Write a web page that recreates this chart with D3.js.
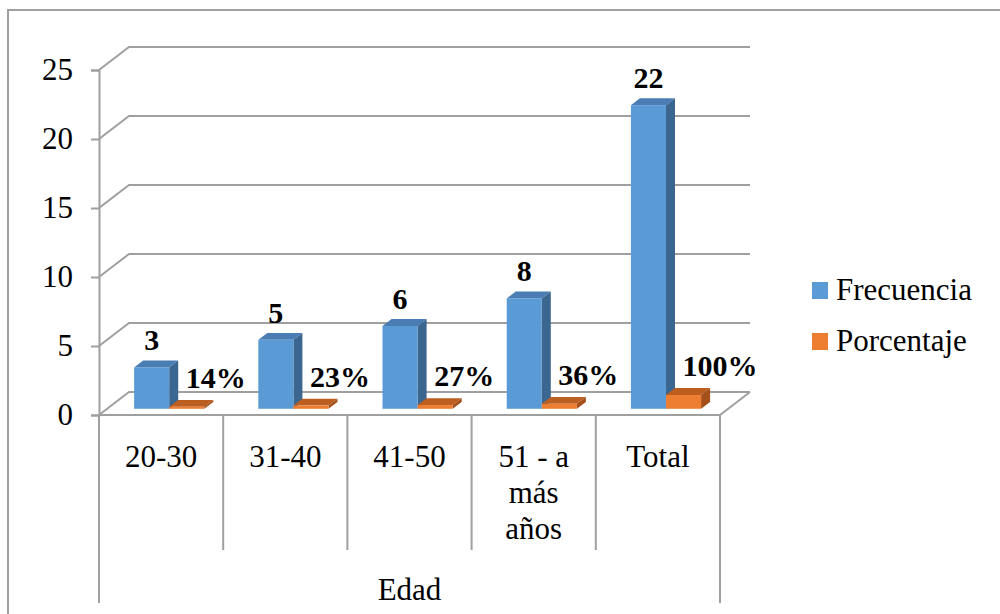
<!DOCTYPE html>
<html>
<head>
<meta charset="utf-8">
<script src="https://cdn.jsdelivr.net/npm/d3@7"></script>
<style>
  html, body { margin: 0; padding: 0; background: #fff; }
  svg { display: block; }
</style>
</head>
<body>
<svg id="chart" width="1000" height="614"></svg>
<script>
// Age groups and the two series shown for each
const categories = ["20-30", "31-40", "41-50", "51 - a|más|años", "Total"];
const seriesNames = ["Frecuencia", "Porcentaje"];
const frecuencia = [3, 5, 6, 8, 22];
const porcentaje = [0.14, 0.23, 0.27, 0.36, 1.00];
const porcentajeLabels = ["14%", "23%", "27%", "36%", "100%"];
const yTicks = [0, 5, 10, 15, 20, 25];
const axisTitle = "Edad";

const FONT = "Liberation Serif";
const TEXT_SIZE = 31;

const svg = d3.select("#chart").attr("font-family", FONT);

// Plot box (front plane) and 3D depth offset of the walls
const plotLeft = 99, plotRight = 720, plotBottom = 415, plotTop = 70;
const depth = { dx: 30, dy: -23 };
const barDepthStart = 0.27, barDepthEnd = 0.57;

const x = d3.scaleBand().domain(categories).range([plotLeft, plotRight]);
const y = d3.scaleLinear().domain([0, 25]).range([plotBottom, plotTop]);
const clusterW = x.bandwidth() * 0.565;
const xs = d3.scaleBand().domain(seriesNames).range([-clusterW / 2, clusterW / 2]);

const gridColor = "#9f9f9f";

// Outer chart frame (top and left edges)
svg.append("path")
  .attr("d", "M8,614 L8,10 L1000,10")
  .attr("fill", "none").attr("stroke", gridColor).attr("stroke-width", 2);

// Back-wall gridlines and the diagonal on the side wall for each tick
const grid = svg.append("g").attr("fill", "none").attr("stroke", gridColor).attr("stroke-width", 2);
yTicks.forEach(t => {
  const yf = y(t);
  grid.append("path")
    .attr("d", `M${plotLeft},${yf} L${plotLeft + depth.dx},${yf + depth.dy} L${plotRight + depth.dx},${yf + depth.dy}`);
});
// Floor right edge and front edge
grid.append("path")
  .attr("d", `M${plotRight + depth.dx},${y(0) + depth.dy} L${plotRight},${y(0)} L${plotLeft},${y(0)}`);

// Value axis line and ticks
const yAxis = d3.axisLeft(y).tickValues(yTicks).tickSize(8).tickPadding(18).tickFormat(d3.format("d"));
const ya = svg.append("g").attr("transform", `translate(${plotLeft},0)`).call(yAxis);
ya.attr("font-family", FONT).attr("font-size", TEXT_SIZE);
ya.select(".domain").attr("stroke", gridColor).attr("stroke-width", 2);
ya.selectAll(".tick line").attr("stroke", gridColor).attr("stroke-width", 2);
ya.selectAll(".tick text").attr("fill", "#000");

// Category table lines below the floor
const boundaries = categories.map(c => x(c)).concat([plotRight]);
boundaries.forEach((bx, i) => {
  const isOuter = i === 0 || i === boundaries.length - 1;
  svg.append("line")
    .attr("x1", bx).attr("x2", bx)
    .attr("y1", plotBottom).attr("y2", isOuter ? 603 : 550)
    .attr("stroke", gridColor).attr("stroke-width", 2);
});

// Category labels (multi-line where needed)
categories.forEach(c => {
  const lines = c.split("|");
  const cx = x(c) + x.bandwidth() / 2;
  const t = svg.append("text")
    .attr("x", cx)
    .attr("y", 467)
    .attr("text-anchor", "middle")
    .attr("font-size", TEXT_SIZE)
    .attr("fill", "#000");
  lines.forEach((ln, i) => {
    t.append("tspan").attr("x", cx).attr("dy", i === 0 ? 0 : 36).text(ln);
  });
});
svg.append("text")
  .attr("x", (plotLeft + plotRight) / 2).attr("y", 600)
  .attr("text-anchor", "middle").attr("font-size", TEXT_SIZE)
  .attr("fill", "#000")
  .text(axisTitle);

// 3D bar drawing: front, side and top faces
const fx = depth.dx * barDepthStart, fy = depth.dy * barDepthStart;
const bdx = depth.dx * (barDepthEnd - barDepthStart), bdy = depth.dy * (barDepthEnd - barDepthStart);

const palette = {
  Frecuencia: { front: "#5b9bd5", side: "#3b6690", top: "#4a7db3" },
  Porcentaje: { front: "#ed7d31", side: "#a3501a", top: "#bd5e21" }
};

function drawBar(g, x0, w, v, col) {
  const y0 = y(0) + fy, y1 = y(v) + fy;
  const xl = x0 + fx, xr = xl + w;
  g.append("path")
    .attr("d", `M${xl},${y1} L${xl + bdx},${y1 + bdy} L${xr + bdx},${y1 + bdy} L${xr},${y1} Z`)
    .attr("fill", col.top);
  g.append("path")
    .attr("d", `M${xr},${y1} L${xr + bdx},${y1 + bdy} L${xr + bdx},${y0 + bdy} L${xr},${y0} Z`)
    .attr("fill", col.side);
  g.append("rect")
    .attr("x", xl).attr("y", y1).attr("width", w).attr("height", y0 - y1)
    .attr("fill", col.front);
  return { cx: xl + w / 2, yTop: y1 };
}

const bars = svg.append("g");
const labels = svg.append("g").attr("font-weight", "bold").attr("font-size", 30).attr("fill", "#000");

categories.forEach((c, i) => {
  const cx = x(c) + x.bandwidth() / 2;
  const b1 = drawBar(bars, cx + xs("Frecuencia"), xs.bandwidth(), frecuencia[i], palette.Frecuencia);
  const b2 = drawBar(bars, cx + xs("Porcentaje"), xs.bandwidth(), porcentaje[i], palette.Porcentaje);
  labels.append("text")
    .attr("x", b1.cx).attr("y", b1.yTop - 17)
    .attr("text-anchor", "middle")
    .text(frecuencia[i]);
  labels.append("text")
    .attr("x", b2.cx - 1).attr("y", b2.yTop - 19)
    .attr("text-anchor", "start")
    .text(porcentajeLabels[i]);
});

// Legend
const legend = svg.append("g");
seriesNames.forEach((s, i) => {
  const ly = 282 + i * 51;
  legend.append("rect")
    .attr("x", 812).attr("y", ly).attr("width", 16).attr("height", 17)
    .attr("fill", palette[s].front);
  legend.append("text")
    .attr("x", 836).attr("y", ly + 18)
    .attr("font-size", TEXT_SIZE)
    .attr("fill", "#000")
    .text(s);
});
</script>
</body>
</html>
